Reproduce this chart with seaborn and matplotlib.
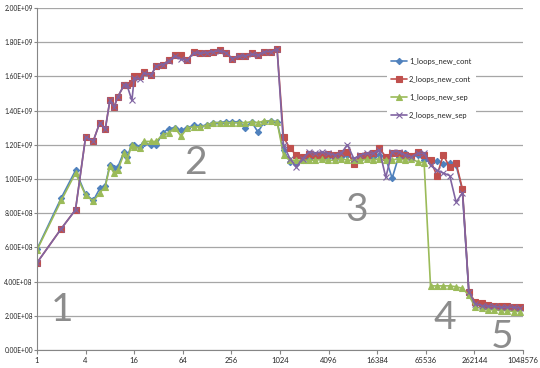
import matplotlib
matplotlib.use("Agg")
import matplotlib.pyplot as plt
import seaborn as sns

# array sizes (x axis, log2 scale)
sizes = [1, 2, 3, 4, 5, 6, 7, 8, 9, 10, 12, 13, 15, 16, 19, 21, 26, 30, 36, 43,
         51, 61, 73, 88, 106, 127, 152, 183, 219, 263, 316, 379, 455, 546, 655,
         786, 943, 1132, 1358, 1630, 1956, 2347, 2816, 3380, 4056, 4867, 5840,
         7008, 8410, 10092, 12110, 14532, 17439, 20927, 25112, 30134, 36161,
         43393, 52072, 62486, 74984, 89980, 107976, 129572, 155486, 186584,
         223900, 268680, 322416, 386900, 464280, 557136, 668563, 802276, 962731]

# throughput values, in units of 1e9
loops1_cont = [0.59, 0.89, 1.05, 0.91, 0.875, 0.945, 0.96, 1.085, 1.065, 1.07,
               1.16, 1.13, 1.20, 1.20, 1.19, 1.21, 1.20, 1.20, 1.27, 1.295,
               1.30, 1.285, 1.30, 1.315, 1.31, 1.315, 1.33, 1.33, 1.335, 1.335,
               1.335, 1.30, 1.335, 1.275, 1.335, 1.34, 1.335, 1.17, 1.10, 1.09,
               1.11, 1.12, 1.13, 1.12, 1.13, 1.12, 1.13, 1.14, 1.11, 1.12,
               1.13, 1.13, 1.14, 1.12, 1.005, 1.13, 1.15, 1.13, 1.14, 1.11,
               1.10, 1.105, 1.09, 1.095, 1.08, 0.935, 0.33, 0.27, 0.26, 0.255,
               0.25, 0.25, 0.245, 0.245, 0.245]
loops2_cont = [0.51, 0.71, 0.82, 1.245, 1.225, 1.33, 1.29, 1.46, 1.42, 1.48,
               1.55, 1.55, 1.56, 1.60, 1.60, 1.625, 1.61, 1.66, 1.67, 1.695,
               1.725, 1.725, 1.695, 1.745, 1.735, 1.74, 1.745, 1.755, 1.74, 1.70,
               1.72, 1.72, 1.735, 1.725, 1.745, 1.745, 1.76, 1.245, 1.18, 1.14,
               1.13, 1.145, 1.14, 1.14, 1.145, 1.14, 1.155, 1.16, 1.09, 1.135,
               1.14, 1.15, 1.18, 1.13, 1.15, 1.15, 1.14, 1.135, 1.16, 1.14,
               1.11, 1.02, 1.14, 1.07, 1.095, 0.94, 0.34, 0.28, 0.275, 0.265,
               0.26, 0.255, 0.255, 0.25, 0.25]
loops1_sep = [0.585, 0.875, 1.035, 0.905, 0.87, 0.92, 0.955, 1.075, 1.035, 1.05,
              1.15, 1.11, 1.20, 1.19, 1.18, 1.22, 1.22, 1.22, 1.26, 1.27,
              1.30, 1.25, 1.30, 1.305, 1.305, 1.315, 1.33, 1.33, 1.33, 1.33,
              1.33, 1.33, 1.335, 1.33, 1.34, 1.34, 1.335, 1.14, 1.11, 1.11,
              1.11, 1.11, 1.11, 1.115, 1.11, 1.11, 1.12, 1.11, 1.11, 1.11,
              1.115, 1.11, 1.12, 1.11, 1.11, 1.12, 1.11, 1.12, 1.10, 1.095,
              0.375, 0.375, 0.375, 0.375, 0.37, 0.36, 0.32, 0.25, 0.245, 0.235,
              0.235, 0.23, 0.23, 0.225, 0.225]
loops2_sep = [0.51, 0.71, 0.82, 1.245, 1.225, 1.33, 1.29, 1.46, 1.42, 1.48,
              1.55, 1.55, 1.46, 1.59, 1.585, 1.62, 1.61, 1.66, 1.67, 1.69,
              1.72, 1.70, 1.695, 1.74, 1.735, 1.74, 1.745, 1.75, 1.74, 1.705,
              1.72, 1.72, 1.73, 1.725, 1.745, 1.745, 1.76, 1.20, 1.12, 1.07,
              1.12, 1.16, 1.15, 1.16, 1.15, 1.14, 1.15, 1.20, 1.12, 1.14,
              1.15, 1.15, 1.17, 1.01, 1.16, 1.16, 1.14, 1.13, 1.15, 1.15,
              1.08, 1.05, 1.035, 1.02, 0.865, 0.92, 0.34, 0.27, 0.26, 0.255,
              0.255, 0.25, 0.25, 0.25, 0.245]

x_ticks = [4 ** k for k in range(11)]
y_ticks = [k * 2e8 for k in range(11)]

sns.set_style("white")
plt.rcParams['font.family'] = ['Lato', 'DejaVu Sans']

fig = plt.figure(figsize=(5.4, 3.68), dpi=100)
ax = fig.add_axes([0.0685, 0.049, 0.9, 0.929])

series = [
    ("1_loops_new_cont", loops1_cont, "#4F81BD", "D", 3.2),
    ("2_loops_new_cont", loops2_cont, "#C0504D", "s", 4.3),
    ("1_loops_new_sep", loops1_sep, "#9BBB59", "^", 4.0),
    ("2_loops_new_sep", loops2_sep, "#8064A2", "x", 4.0),
]
for name, vals, color, marker, ms in series:
    sns.lineplot(x=sizes, y=[v * 1e9 for v in vals], ax=ax, color=color,
                 marker=marker, markersize=ms, linewidth=1.2, label=name,
                 markeredgecolor=color, markeredgewidth=0.8)

ax.set_xscale("log", base=2)
ax.set_xlim(1, 2 ** 20)
ax.set_xticks(x_ticks)
ax.set_xticklabels([str(t) for t in x_ticks])
ax.minorticks_off()
ax.set_ylim(0, 2e9)
ax.set_yticks(y_ticks)
ax.set_yticklabels([f"{t:.2E}" for t in y_ticks])

ax.yaxis.grid(True, color="#a6a6a6", linewidth=0.9)
ax.xaxis.grid(False)
for side in ["top", "right"]:
    ax.spines[side].set_visible(False)
for side in ["left", "bottom"]:
    ax.spines[side].set_color("#868686")
    ax.spines[side].set_linewidth(0.8)
ax.tick_params(axis="x", length=3, direction="out", color="#868686",
               labelsize=5.5, pad=2, bottom=True)
ax.tick_params(axis="y", length=2, direction="out", color="#868686",
               labelsize=4.8, pad=1, left=True)

# big region labels
regions = [("1", 0.051, 0.117), ("2", 0.325, 0.547), ("3", 0.658, 0.409),
           ("4", 0.84, 0.094), ("5", 0.957, 0.038)]
for txt, fx, fy in regions:
    ax.text(fx, fy, txt, transform=ax.transAxes, fontsize=28, color="#8c8c8c",
            ha="center", va="center")

leg = ax.legend(loc="upper left", bbox_to_anchor=(0.712, 0.88), fontsize=5.5,
                frameon=True, facecolor="white", edgecolor="none", framealpha=1,
                handlelength=2.0, labelspacing=1.45, borderpad=0.6,
                handletextpad=0.3)

fig.savefig("out.png", dpi=100)
